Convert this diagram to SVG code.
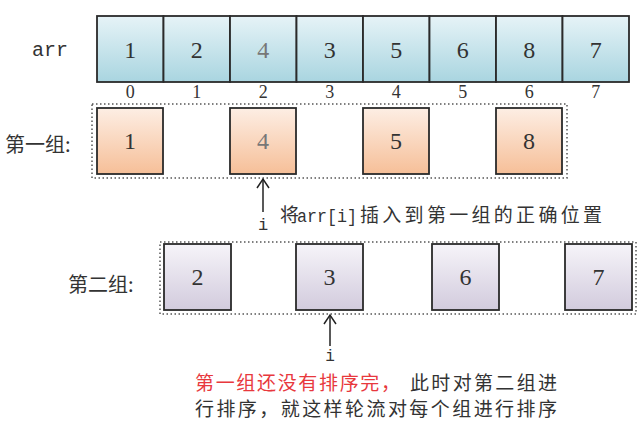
<svg xmlns="http://www.w3.org/2000/svg" width="640" height="433" viewBox="0 0 640 433">
<defs>
<linearGradient id="gBlue" x1="0" y1="0" x2="0" y2="1"><stop offset="0" stop-color="#e6f3f7"/><stop offset="1" stop-color="#a9d5e0"/></linearGradient>
<linearGradient id="gOrange" x1="0" y1="0" x2="0" y2="1"><stop offset="0" stop-color="#fdeee4"/><stop offset="1" stop-color="#f6bf98"/></linearGradient>
<linearGradient id="gPurple" x1="0" y1="0" x2="0" y2="1"><stop offset="0" stop-color="#f6f4f9"/><stop offset="1" stop-color="#d2cbdd"/></linearGradient>
<marker id="open" markerWidth="14" markerHeight="14" refX="12" refY="7" orient="auto" markerUnits="userSpaceOnUse" viewBox="0 0 14 14">
<path d="M3,1 L12,7 L3,13" fill="none" stroke="#222" stroke-width="1.5"/>
</marker>
</defs>
<style>
.cell{stroke:#2a2a2a;stroke-width:1.8}
.blue{fill:url(#gBlue)}
.orange{fill:url(#gOrange)}
.purple{fill:url(#gPurple)}
.num{font-family:"Liberation Serif","DejaVu Serif",serif;font-size:24px;fill:#333;text-anchor:middle}
.idx{font-family:"Liberation Serif","DejaVu Serif",serif;font-size:18px;fill:#333;text-anchor:middle}
.mono{font-family:"Liberation Mono","DejaVu Sans Mono",monospace;fill:#333}
.cjk{font-family:"Noto Sans CJK SC","Noto Sans",sans-serif;fill:#333}
.dot{fill:none;stroke:#555;stroke-width:1.5;stroke-dasharray:1.5 2.5}
.arrow{stroke:#222;stroke-width:1.5;fill:none}
</style>

<text class="mono" x="50" y="56" font-size="20" text-anchor="middle">arr</text>

<g id="arr">
<g id="arr0"><rect class="cell blue" x="97" y="16" width="66.5" height="66"/><text class="num" x="130.2" y="58">1</text></g>
<g id="arr1"><rect class="cell blue" x="163.5" y="16" width="66.5" height="66"/><text class="num" x="196.7" y="58">2</text></g>
<g id="arr2"><rect class="cell blue" x="230" y="16" width="66.5" height="66"/><text class="num" x="263.2" y="58" style="fill:#777">4</text></g>
<g id="arr3"><rect class="cell blue" x="296.5" y="16" width="66.5" height="66"/><text class="num" x="329.7" y="58">3</text></g>
<g id="arr4"><rect class="cell blue" x="363" y="16" width="66.5" height="66"/><text class="num" x="396.2" y="58">5</text></g>
<g id="arr5"><rect class="cell blue" x="429.5" y="16" width="66.5" height="66"/><text class="num" x="462.7" y="58">6</text></g>
<g id="arr6"><rect class="cell blue" x="496" y="16" width="66.5" height="66"/><text class="num" x="529.2" y="58">8</text></g>
<g id="arr7"><rect class="cell blue" x="562.5" y="16" width="66.5" height="66"/><text class="num" x="595.7" y="58">7</text></g>
</g>

<g id="indices">
<text class="idx" x="130.2" y="98">0</text>
<text class="idx" x="196.7" y="98">1</text>
<text class="idx" x="263.2" y="98">2</text>
<text class="idx" x="329.7" y="98">3</text>
<text class="idx" x="396.2" y="98">4</text>
<text class="idx" x="462.7" y="98">5</text>
<text class="idx" x="529.2" y="98">6</text>
<text class="idx" x="595.7" y="98">7</text>
</g>

<g id="group1">
<text class="cjk" x="5" y="152" font-size="20">第一组:</text>
<rect class="dot" x="92" y="104" width="475" height="74"/>
<g id="g1a"><rect class="cell orange" x="97" y="108" width="66" height="66"/><text class="num" x="130" y="149">1</text></g>
<g id="g1b"><rect class="cell orange" x="230" y="108" width="66" height="66"/><text class="num" x="263" y="149" style="fill:#777">4</text></g>
<g id="g1c"><rect class="cell orange" x="363" y="108" width="66" height="66"/><text class="num" x="396" y="149">5</text></g>
<g id="g1d"><rect class="cell orange" x="496" y="108" width="66" height="66"/><text class="num" x="529" y="149">8</text></g>
</g>

<g id="group2">
<text class="cjk" x="68" y="292" font-size="20">第二组:</text>
<rect class="dot" x="160" y="242" width="476" height="72"/>
<g id="g2a"><rect class="cell purple" x="164" y="244" width="67" height="66"/><text class="num" x="197.5" y="285">2</text></g>
<g id="g2b"><rect class="cell purple" x="296" y="244" width="67" height="66"/><text class="num" x="329.5" y="285">3</text></g>
<g id="g2c"><rect class="cell purple" x="432" y="244" width="67" height="66"/><text class="num" x="465.5" y="285">6</text></g>
<g id="g2d"><rect class="cell purple" x="565" y="244" width="67" height="66"/><text class="num" x="598.5" y="285">7</text></g>
</g>

<g id="connectors">
<line class="arrow" x1="263" y1="212" x2="263" y2="179" marker-end="url(#open)"/>
<line class="arrow" x1="330" y1="346" x2="330" y2="315" marker-end="url(#open)"/>
</g>

<text class="mono" x="263" y="230" font-size="17" text-anchor="middle">i</text>
<text class="mono" x="330" y="361" font-size="16" text-anchor="middle">i</text>

<text class="cjk" y="222" font-size="19"><tspan x="280">将</tspan><tspan class="mono" x="297" textLength="60" lengthAdjust="spacingAndGlyphs">arr[i]</tspan><tspan x="360" textLength="242">插入到第一组的正确位置</tspan></text>

<text class="cjk" y="390" font-size="19"><tspan x="195" style="fill:#e8383d" textLength="205">第一组还没有排序完，</tspan><tspan x="410" textLength="147">此时对第二组进</tspan></text>
<text class="cjk" y="416" font-size="19"><tspan x="195" textLength="362">行排序，就这样轮流对每个组进行排序</tspan></text>
</svg>
